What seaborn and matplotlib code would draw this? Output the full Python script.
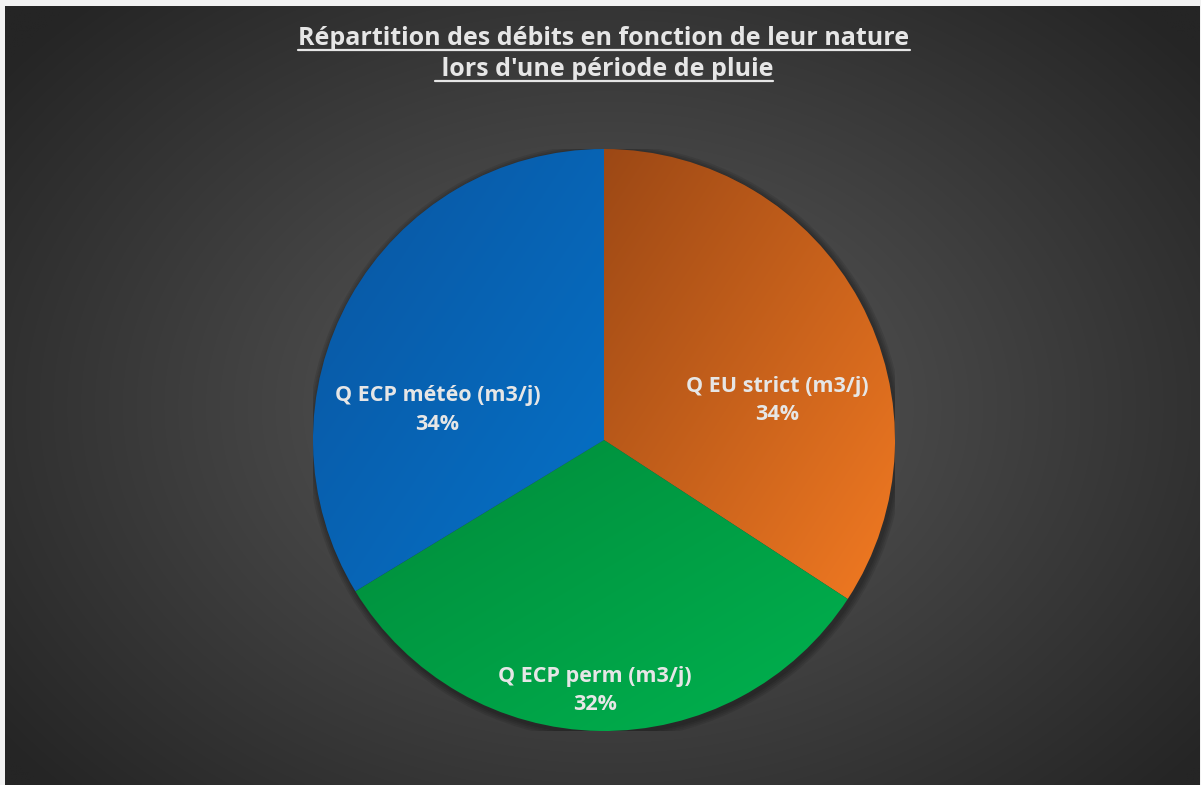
import numpy as np
import matplotlib
matplotlib.use("Agg")
import matplotlib.pyplot as plt
import seaborn as sns
from matplotlib.colors import to_rgb
from matplotlib.lines import Line2D
from matplotlib.patches import Circle

# données
categories = ["Q EU strict (m3/j)", "Q ECP perm (m3/j)", "Q ECP météo (m3/j)"]
valeurs = [34.2, 32.1, 33.7]
pourcent = ["34%", "32%", "34%"]
titre = ["Répartition des débits en fonction de leur nature",
         " lors d'une période de pluie"]

# couleurs (foncé -> clair, haut-gauche vers bas-droite)
couleurs_fonce = ["#9c4815", "#008a3a", "#0a55a0"]
couleurs_clair = ["#f27a22", "#00b24f", "#0572c8"]

sns.set_theme(style="dark")
plt.rcParams["font.family"] = ["Open Sans", "DejaVu Sans"]

fig = plt.figure(figsize=(12.01, 7.85), dpi=100, facecolor="#f2f2f2")
W, H = 1201, 785

# fond avec dégradé radial
bg = fig.add_axes([5 / W, 0, 1 - 6 / W, 1 - 6 / H])
bg.set_axis_off()
yy, xx = np.mgrid[0:400, 0:600]
xx = xx / 600 * 1190
yy = yy / 400 * 779
d = np.sqrt(((xx - 600) / 760) ** 2 + ((yy - 400) / 560) ** 2)
d = np.clip(d, 0, 1)
c_in = np.array(to_rgb("#5c5c5c"))
c_out = np.array(to_rgb("#252525"))
img = c_in[None, None, :] * (1 - d[..., None]) + c_out[None, None, :] * d[..., None]
bg.imshow(img, aspect="auto", extent=(0, 1, 0, 1), interpolation="bilinear")
bg.set_xlim(0, 1)
bg.set_ylim(0, 1)

# camembert
cx, cy, r = 604, 440, 291
ax = fig.add_axes([(cx - r) / W, (H - cy - r) / H, 2 * r / W, 2 * r / H])
ax.set_axis_off()

for k in range(4):
    ax.add_patch(Circle((0.006, -0.008), 1.0 + 0.006 * (k + 1), color="black",
                        alpha=0.09, zorder=0, linewidth=0))

wedges, _ = ax.pie(valeurs, startangle=90, counterclock=False, radius=1,
                   colors=couleurs_clair, wedgeprops=dict(linewidth=0))

for w, cf, cc in zip(wedges, couleurs_fonce, couleurs_clair):
    th = np.radians(np.linspace(w.theta1, w.theta2, 100))
    px = np.concatenate([[0], np.cos(th)])
    py = np.concatenate([[0], np.sin(th)])
    x0, x1, y0, y1 = px.min(), px.max(), py.min(), py.max()
    gy, gx = np.mgrid[0:200, 0:200]
    t = (gx / 199 + gy / 199) / 2
    c1 = np.array(to_rgb(cf))
    c2 = np.array(to_rgb(cc))
    g = c1[None, None, :] * (1 - t[..., None]) + c2[None, None, :] * t[..., None]
    im = ax.imshow(g, extent=(x0, x1, y0, y1), origin="upper", zorder=2,
                   interpolation="bilinear")
    im.set_clip_path(w)
    w.set_facecolor("none")
    w.set_zorder(3)
ax.set_xlim(-1, 1)
ax.set_ylim(-1, 1)
ax.set_aspect("equal")

# étiquettes
positions = [(0.595, 0.135), (-0.03, -0.86), (-0.572, 0.103)]
for lab, p, (x, y) in zip(categories, pourcent, positions):
    ax.text(x, y, lab + "\n" + p, ha="center", va="center", color="#e6e6e6",
            fontsize=15.5, fontweight="bold", linespacing=1.45, zorder=5)

# titre souligné
lignes = []
for ligne, base in zip(titre, [45, 76]):
    lignes.append(fig.text(604 / W, 1 - base / H, ligne, ha="center",
                           va="baseline", color="#e6e6e6", fontsize=18,
                           fontweight="bold"))
fig.canvas.draw()
rend = fig.canvas.get_renderer()
for t, base in zip(lignes, [45, 76]):
    bb = t.get_window_extent(rend).transformed(fig.transFigure.inverted())
    yl = 1 - (base + 5) / H
    fig.add_artist(Line2D([bb.x0, bb.x1], [yl, yl], color="#e6e6e6",
                          linewidth=1.6, transform=fig.transFigure))

fig.savefig("out.png", dpi=100, facecolor=fig.get_facecolor())
